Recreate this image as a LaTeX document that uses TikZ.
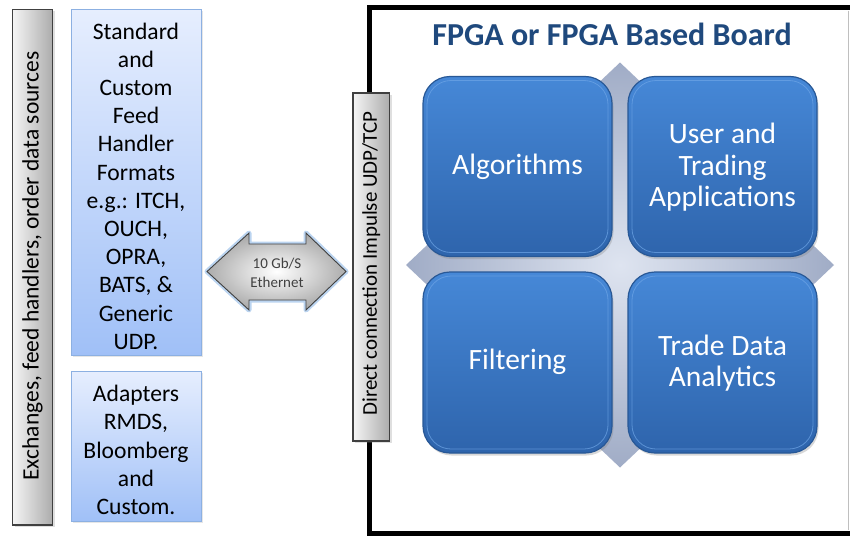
\documentclass[tikz,border=0pt]{standalone}
\usepackage{fontspec}
\setmainfont{Carlito}
\usetikzlibrary{shadows}
\definecolor{titleblue}{RGB}{31,73,125}
\definecolor{barlight}{RGB}{245,245,245}
\definecolor{bardark}{RGB}{172,172,172}
\definecolor{barborder}{RGB}{64,64,64}
\definecolor{boxtop}{RGB}{230,238,254}
\definecolor{boxbot}{RGB}{160,192,247}
\definecolor{boxborder}{RGB}{140,176,226}
\definecolor{tiletop}{RGB}{70,136,215}
\definecolor{tilebot}{RGB}{46,100,172}
\definecolor{tileborder}{RGB}{40,88,150}
\definecolor{tilehi}{RGB}{110,165,230}
\definecolor{diain}{RGB}{222,228,240}
\definecolor{diaout}{RGB}{160,172,198}
\definecolor{glow}{RGB}{120,170,225}
\tikzset{
  graybar/.style={draw=barborder, line width=1.1pt, left color=barlight, right color=bardark,
    drop shadow={shadow xshift=2pt, shadow yshift=-2pt, opacity=0.25}},
  feedbox/.style={draw=boxborder, line width=1pt, top color=boxtop, bottom color=boxbot,
    drop shadow={shadow xshift=2pt, shadow yshift=-2pt, opacity=0.2}},
  tile/.style={draw=tileborder, line width=1.2pt, top color=tiletop, bottom color=tilebot,
    rounded corners=27pt, drop shadow={shadow xshift=1.5pt, shadow yshift=-2.5pt, opacity=0.3}},
  tilehilite/.style={draw=tilehi, line width=0.8pt, rounded corners=24pt, opacity=0.7},
  feedtext/.style={align=center, font=\fontsize{23.6}{28.2}\selectfont, text=black},
  tiletext/.style={align=center, font=\fontsize{29.5}{31.6}\selectfont, text=white},
}
\begin{document}
\begin{tikzpicture}[x=1pt,y=-1pt]
\useasboundingbox (0,0) rectangle (850,535);
% left gray bar
\path[graybar] (12.5,9.5) rectangle (52.5,525);
\node[rotate=90, font=\fontsize{23.5}{27}\selectfont] (src) at (32.5,266) {Exchanges, feed handlers, order data sources};
% feed boxes
\path[feedbox] (71,9.5) rectangle (201,355);
\node[feedtext] (feeds) at (136,186) {Standard\\and\\Custom\\Feed\\Handler\\Formats\\e.g.: ITCH,\\OUCH,\\OPRA,\\BATS, \&\\Generic\\UDP.};
\path[feedbox] (71,371) rectangle (201,521);
\node[feedtext] (adapt) at (136,450) {Adapters\\RMDS,\\Bloomberg\\and\\Custom.};
% board frame
\draw[line width=5pt, fill=white] (369,8) rectangle (855,533);
\draw[black!25, line width=0.8pt] (848,11) -- (848,530);
\node[font=\bfseries\fontsize{32}{36}\selectfont, text=titleblue] (title) at (612,34) {FPGA or FPGA Based Board};
% diamond
\path[inner color=diain, outer color=diaout] (620,62.5) -- (834,265) -- (620,467.5) -- (406,265) -- cycle;
% tiles
\path[tile] (423,76.5) rectangle (612,256.5);
\path[tile] (628,76.5) rectangle (817,256.5);
\path[tile] (423,272) rectangle (612,453);
\path[tile] (628,272) rectangle (817,453);
\draw[tilehilite] (427,80.5) rectangle (608,252.5);
\draw[tilehilite] (632,80.5) rectangle (813,252.5);
\draw[tilehilite] (427,276) rectangle (608,449);
\draw[tilehilite] (632,276) rectangle (813,449);
\node[tiletext] (alg) at (517.5,167) {Algorithms};
\node[tiletext] (user) at (722.5,167.5) {User and\\Trading\\Applications};
\node[tiletext] (filt) at (517.5,362) {Filtering};
\node[tiletext] (trade) at (722.5,363) {Trade Data\\Analytics};
% middle gray bar
\path[graybar] (353,93) rectangle (389.5,441);
\node[rotate=90, font=\fontsize{21}{25}\selectfont] (direct) at (371.25,263.5) {Direct connection Impulse UDP/TCP};
% double arrow
\coordinate (al) at (207,271.5);
\coordinate (ar) at (346,271.5);
\draw[glow, line width=5pt, opacity=0.5, line join=round]
  (al) -- (249,233) -- (249,244) -- (306,244) -- (306,233) -- (ar) -- (306,310) -- (306,300) -- (249,300) -- (249,310) -- cycle;
\draw[barborder, line width=0.9pt, inner color=white, outer color=bardark]
  (al) -- (249,233) -- (249,244) -- (306,244) -- (306,233) -- (ar) -- (306,310) -- (306,300) -- (249,300) -- (249,310) -- cycle;
\node[align=center, font=\fontsize{15}{19}\selectfont, text=barborder] (eth) at (277,273) {10 Gb/S\\Ethernet};
\end{tikzpicture}
\end{document}
